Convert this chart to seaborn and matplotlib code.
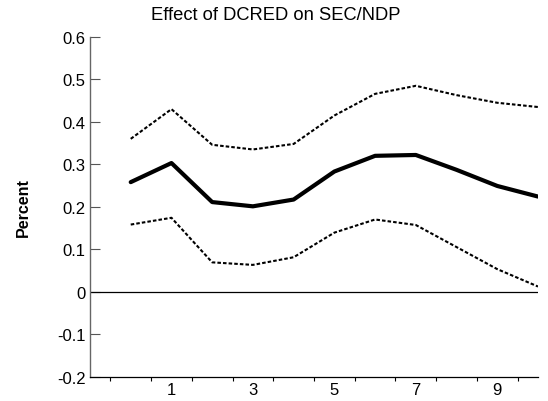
import matplotlib
matplotlib.use("Agg")
import matplotlib.pyplot as plt
import seaborn as sns
import pandas as pd
from matplotlib.ticker import FixedLocator, NullFormatter, FixedFormatter

periods = [0, 1, 2, 3, 4, 5, 6, 7, 8, 9, 10]
effect = [0.258, 0.303, 0.211, 0.201, 0.217, 0.283, 0.320, 0.322, 0.287, 0.249, 0.224]
upper = [0.360, 0.430, 0.346, 0.335, 0.348, 0.415, 0.466, 0.485, 0.463, 0.445, 0.435]
lower = [0.158, 0.174, 0.069, 0.063, 0.081, 0.139, 0.170, 0.157, 0.105, 0.053, 0.012]
xtick_labels = ["1", "3", "5", "7", "9"]
xtick_pos = [1, 3, 5, 7, 9]
yticks = [-0.2, -0.1, 0, 0.1, 0.2, 0.3, 0.4, 0.5, 0.6]
ytick_labels = ["-0.2", "-0.1", "0", "0.1", "0.2", "0.3", "0.4", "0.5", "0.6"]
title = "Effect of DCRED on SEC/NDP"
ylabel = "Percent"

sns.set_theme(style="white")
plt.rcParams["font.family"] = ["Liberation Sans", "DejaVu Sans"]

df = pd.DataFrame({"period": periods, "effect": effect, "upper": upper, "lower": lower})

fig = plt.figure(figsize=(5.48, 4.02), dpi=100)
ax = fig.add_axes([90 / 548, 1 - 377.5 / 402, (538 - 90) / 548, (377.5 - 38) / 402])

dash = (0, (1.7, 1.0))
sns.lineplot(data=df, x="period", y="upper", ax=ax, color="black", lw=1.5, linestyle=dash)
sns.lineplot(data=df, x="period", y="lower", ax=ax, color="black", lw=1.5, linestyle=dash)
sns.lineplot(data=df, x="period", y="effect", ax=ax, color="black", lw=3.0)
ax.axhline(0, color="black", lw=0.9, zorder=1)

ax.set_xlim(-1.0, 10.0)
ax.set_ylim(-0.2, 0.6)

# x axis: ticks at half periods, labels at odd periods
ax.xaxis.set_major_locator(FixedLocator([p - 0.5 for p in periods]))
ax.xaxis.set_major_formatter(NullFormatter())
ax.xaxis.set_minor_locator(FixedLocator(xtick_pos))
ax.xaxis.set_minor_formatter(FixedFormatter(xtick_labels))
ax.tick_params(axis="x", which="major", direction="out", length=3, width=0.8, color="black", bottom=True)
ax.tick_params(axis="x", which="minor", length=0, pad=4, labelsize=12, labelcolor="black", bottom=True)

ax.set_yticks(yticks)
ax.set_yticklabels(ytick_labels)
ax.tick_params(axis="y", which="major", direction="in", length=7, width=0.8, color="#555555",
               left=True, pad=3, labelsize=12, labelcolor="black")

for s in ["top", "right"]:
    ax.spines[s].set_visible(False)
ax.spines["left"].set_color("#666666")
ax.spines["left"].set_linewidth(1.0)
ax.spines["bottom"].set_color("black")
ax.spines["bottom"].set_linewidth(0.9)

ax.set_xlabel("")
ax.set_ylabel(ylabel, fontsize=11.5, fontweight="bold", color="black")
ax.yaxis.set_label_coords(-59 / 448, 0.5)

fig.text(276 / 548, 1 - 15 / 402, title, ha="center", va="center", fontsize=13.2, color="black")

fig.savefig("out.png", dpi=100)
